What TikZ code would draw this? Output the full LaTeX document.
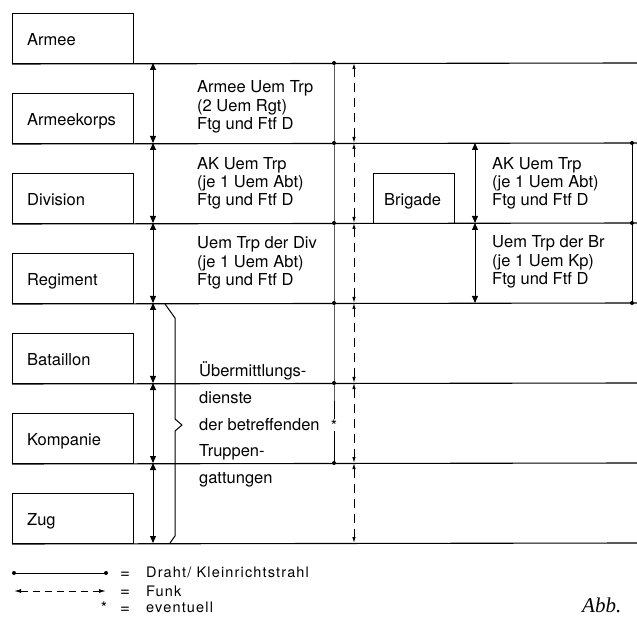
\documentclass[tikz,border=0pt]{standalone}
\usepackage{fontspec}
\setmainfont{TeX Gyre Heros}
\newfontfamily\legendfont{TeX Gyre Heros}[LetterSpace=8]
\newfontfamily\abbfont{Liberation Serif}
\usetikzlibrary{arrows.meta}
\begin{document}
\begin{tikzpicture}[x=1pt,y=-1pt,
  unitbox/.style={draw, line width=1pt, minimum width=121pt, minimum height=50pt, inner sep=0pt, anchor=north west},
  lbl/.style={anchor=base west, inner sep=0pt, font=\fontsize{16.5}{19}\selectfont},
  leg/.style={anchor=base west, inner sep=0pt, font=\legendfont\fontsize{14.5}{17}\selectfont},
  hline/.style={line width=1.1pt},
  wire/.style={line width=1pt},
  link/.style={line width=1pt, {Triangle[length=7pt,width=6pt]}-{Triangle[length=7pt,width=6pt]}},
  funk/.style={line width=1pt, dash pattern=on 9pt off 6pt, {Latex[length=6pt,width=3.5pt]}-{Latex[length=6pt,width=3.5pt]}},
  dot/.style={circle, fill, inner sep=0pt, minimum size=4pt},
  star/.style={inner sep=0.5pt, font=\fontsize{16}{16}\selectfont}]

\useasboundingbox (0,0) rectangle (637,617);

% unit boxes
\node[unitbox] (armee) at (12,13) {};
\node[unitbox] (ak) at (12,93) {};
\node[unitbox] (div) at (12,173) {};
\node[unitbox] (rgt) at (12,253) {};
\node[unitbox] (bat) at (12,333) {};
\node[unitbox] (kp) at (12,413) {};
\node[unitbox] (zug) at (12,493) {};
\node[unitbox, minimum width=81pt] (br) at (373,173) {};

\node[lbl] (tarmee) at ([xshift=15pt,yshift=-7pt]armee.west) {Armee};
\node[lbl] (tak) at ([xshift=15pt,yshift=-7pt]ak.west) {Armeekorps};
\node[lbl] (tdiv) at ([xshift=15pt,yshift=-7pt]div.west) {Division};
\node[lbl] (trgt) at ([xshift=15pt,yshift=-7pt]rgt.west) {Regiment};
\node[lbl] (tbat) at ([xshift=15pt,yshift=-7pt]bat.west) {Bataillon};
\node[lbl] (tkp) at ([xshift=15pt,yshift=-7pt]kp.west) {Kompanie};
\node[lbl] (tzug) at ([xshift=15pt,yshift=-7pt]zug.west) {Zug};
\node[lbl] (tbr) at ([xshift=11pt,yshift=-7pt]br.west) {Brigade};

% horizontal level lines
\coordinate (r1) at (637,63);
\coordinate (r2) at (637,143);
\coordinate (r3) at (637,223);
\coordinate (r4) at (637,303);
\coordinate (r5) at (637,383);
\coordinate (r6) at (637,463);
\coordinate (r7) at (637,543);
\draw[hline] (armee.south west) -- (r1);
\draw[hline] (ak.south west) -- (r2);
\draw[hline] (div.south west) -- (r3);
\draw[hline] (rgt.south west) -- (r4);
\draw[hline] (bat.south west) -- (r5);
\draw[hline] (kp.south west) -- (r6);
\draw[hline] (zug.south west) -- (r7);

% main link arrows
\coordinate (a1) at (153,63);
\coordinate (a2) at (153,143);
\coordinate (a3) at (153,223);
\coordinate (a4) at (153,303);
\coordinate (a5) at (153,383);
\coordinate (a6) at (153,463);
\coordinate (a7) at (153,543);
\draw[link] (a1) -- (a2);
\draw[link] (a2) -- (a3);
\draw[link] (a3) -- (a4);
\draw[link] (a4) -- (a5);
\draw[link] (a5) -- (a6);
\draw[link] (a6) -- (a7);

% brigade link arrows
\coordinate (b1) at (475,143);
\coordinate (b2) at (475,223);
\coordinate (b3) at (475,303);
\draw[link] (b1) -- (b2);
\draw[link] (b2) -- (b3);

% wire line (Draht)
\coordinate (w1) at (334,63);
\coordinate (w2) at (334,143);
\coordinate (w3) at (334,223);
\coordinate (w4) at (334,303);
\coordinate (w5) at (334,383);
\coordinate (w6) at (334,463);
\node[star] (ev) at (334,426) {*};
\draw[wire] (w1) -- (w5) -- (334,419);
\draw[wire] (334,431) -- (w6);
\foreach \p in {w1,w2,w3,w4,w5,w6} \node[dot] at (\p) {};

\coordinate (v1) at (632,143);
\coordinate (v2) at (632,223);
\coordinate (v3) at (632,303);
\draw[wire] (v1) -- (v3);
\foreach \p in {v1,v2,v3} \node[dot] at (\p) {};

% radio line (Funk)
\coordinate (f1) at (354,63);
\coordinate (f2) at (354,143);
\coordinate (f3) at (354,223);
\coordinate (f4) at (354,303);
\coordinate (f5) at (354,383);
\coordinate (f6) at (354,463);
\coordinate (f7) at (354,543);
\draw[funk] (f1) -- (f2);
\draw[funk] (f2) -- (f3);
\draw[funk] (f3) -- (f4);
\draw[funk] (f4) -- (f5);
\draw[funk] (f5) -- (f6);
\draw[funk] (f6) -- (f7);

% brace
\draw[wire, line join=round] (165,304) -- (175,318) -- (175,419) -- (182,425) -- (175,431) -- (175,536) -- (170,543);

% texts
\node[lbl] (t11) at (197,93) {Armee Uem Trp};
\node[lbl] (t12) at (197,111.5) {(2 Uem Rgt)};
\node[lbl] (t13) at (197,130) {Ftg und Ftf D};

\node[lbl] (t21) at (197,170) {AK Uem Trp};
\node[lbl] (t22) at (197,188) {(je 1 Uem Abt)};
\node[lbl] (t23) at (197,206) {Ftg und Ftf D};

\node[lbl] (t31) at (197,249) {Uem Trp der Div};
\node[lbl] (t32) at (197,267.5) {(je 1 Uem Abt)};
\node[lbl] (t33) at (197,286) {Ftg und Ftf D};

\node[lbl] (s21) at (492,170) {AK Uem Trp};
\node[lbl] (s22) at (492,188) {(je 1 Uem Abt)};
\node[lbl] (s23) at (492,206) {Ftg und Ftf D};

\node[lbl] (s31) at (492,248) {Uem Trp der Br};
\node[lbl] (s32) at (492,266.5) {(je 1 Uem Kp)};
\node[lbl] (s33) at (492,285) {Ftg und Ftf D};

\node[lbl] (u1) at (199,377) {Übermittlungs-};
\node[lbl] (u2) at (199,403.5) {dienste};
\node[lbl] (u3) at (199,430) {der betreffenden};
\node[lbl] (u4) at (199,456.5) {Truppen-};
\node[lbl] (u5) at (199,483) {gattungen};

% legend
\coordinate (la) at (14,573);
\coordinate (lb) at (106,573);
\draw[wire] (la) -- (lb);
\node[dot] at (la) {};
\node[dot] at (lb) {};
\coordinate (lc) at (14,591);
\coordinate (ld) at (106,591);
\draw[line width=1pt, dash pattern=on 7pt off 5pt, {Latex[length=7pt,width=4pt]}-{Latex[length=7pt,width=4pt]}] (lc) -- (ld);
\node[star] (lstar) at (104,608) {*};

\node[leg, font=\fontsize{17}{17}\selectfont] (e1) at (120,578) {=};
\node[leg, font=\fontsize{17}{17}\selectfont] (e2) at (120,596.5) {=};
\node[leg, font=\fontsize{17}{17}\selectfont] (e3) at (120,613) {=};
\node[leg] (d1) at (146,577) {Draht/ Kleinrichtstrahl};
\node[leg] (d2) at (146,596) {Funk};
\node[leg] (d3) at (146,612) {eventuell};

\node[anchor=base west, inner sep=0pt, font=\abbfont\itshape\fontsize{21}{22}\selectfont] (abb) at (582,612) {Abb.};
\end{tikzpicture}
\end{document}
